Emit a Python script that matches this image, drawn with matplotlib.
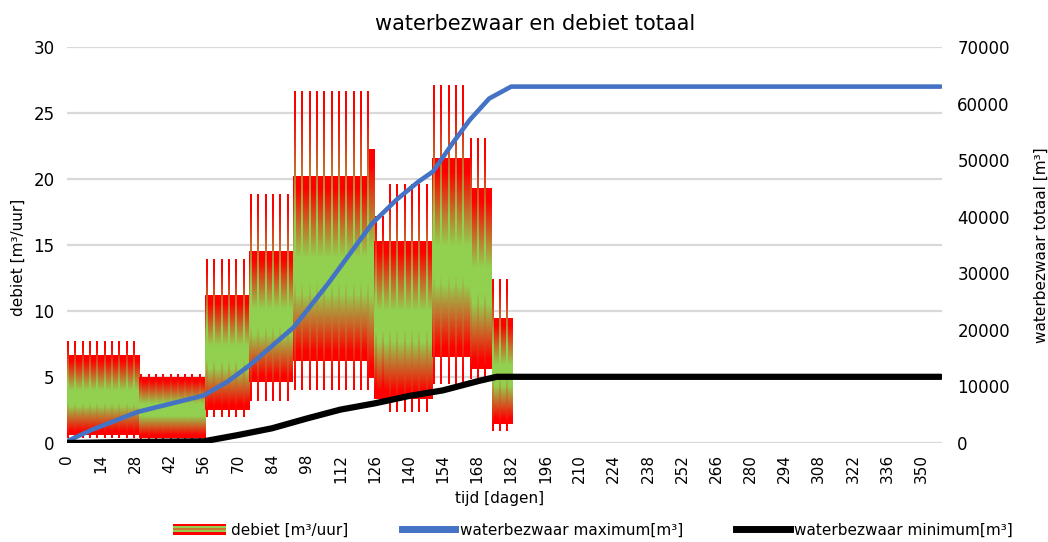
import numpy as np
import matplotlib
matplotlib.use("Agg")
import matplotlib.pyplot as plt
from matplotlib.colors import LinearSegmentedColormap
from matplotlib.patches import Rectangle
from matplotlib.lines import Line2D
from matplotlib.legend_handler import HandlerBase

# debiet blokken (m3/uur): basisband per periode
band_start = [0, 29.5, 56.6, 74.7, 92.7, 123.6, 125.8, 149.7, 165.0, 174.0]
band_end = [29.5, 56.6, 74.7, 92.7, 123.6, 125.8, 149.7, 165.0, 174.0, 182.2]
band_low = [0.6, 0.35, 2.5, 4.6, 6.2, 4.9, 3.3, 6.5, 5.6, 1.45]
band_high = [6.65, 4.9, 11.15, 14.45, 20.2, 22.2, 15.2, 21.5, 19.3, 9.45]

# pieken per groep
spike_days = [
    [0, 3, 6, 9, 12, 15, 18, 21, 24, 27],
    [30, 33, 36, 39, 42, 45, 48, 51, 54],
    [57, 60, 63, 66, 69, 72],
    [75, 78, 81, 84, 87, 90],
    [93, 96, 99, 102, 105, 108, 111, 114, 117, 120, 123],
    [126, 129],
    [132, 135, 138, 141, 144, 147],
    [150, 153, 156, 159, 162],
    [165, 168, 171],
    [174, 177, 180],
]
spike_low = [0.35, 0.3, 1.95, 3.2, 4.0, 3.6, 2.35, 4.5, 4.85, 0.9]
spike_high = [7.65, 5.15, 13.9, 18.85, 26.65, 17.1, 19.55, 27.1, 23.1, 12.4]

# waterbezwaar totaal (m3)
max_days = [0, 10, 29, 56, 66, 75, 93, 107, 125, 135, 144, 150, 158, 165, 173, 182, 358]
max_vals = [300, 2300, 5500, 8400, 10900, 13800, 20500, 28200, 38800, 43000, 46200,
            48000, 53000, 57100, 60900, 63000, 63000]
min_days = [0, 28, 56, 70, 84, 98, 112, 126, 140, 154, 169, 176, 358]
min_vals = [0, 200, 300, 1400, 2600, 4300, 5900, 7000, 8300, 9300, 11000, 11700, 11700]

xticks = list(range(0, 351, 14))

RED = "#ff0000"
GREEN = "#92d050"
BLUE = "#4472c4"
GRID = "#d9d9d9"

cmap = LinearSegmentedColormap.from_list(
    "rgr", [(0, RED), (0.05, RED), (0.36, GREEN), (0.56, GREEN), (0.93, RED), (1, RED)])
grad = np.linspace(0, 1, 256).reshape(-1, 1)

plt.rcParams["font.family"] = ["DejaVu Sans"]

fig = plt.figure(figsize=(10.48, 5.42), dpi=100)
ax = fig.add_axes([67 / 1048, 1 - 443 / 542, 875 / 1048, 396 / 542])
ax2 = ax.twinx()


def grad_bar(x0, x1, lo, hi, z):
    ax.imshow(grad, cmap=cmap, origin="lower", extent=[x0, x1, lo, hi],
              aspect="auto", interpolation="bilinear", zorder=z)


for s, e, lo, hi in zip(band_start, band_end, band_low, band_high):
    grad_bar(s, e, lo, hi, 2)

for days, lo, hi in zip(spike_days, spike_low, spike_high):
    for d in days:
        grad_bar(d, d + 0.7, lo, hi, 3)

ax.set_xlim(0, 358.5)
ax.set_ylim(0, 30)
ax.set_yticks(range(0, 31, 5))
ax.set_xticks(xticks)
ax.set_xticklabels([str(t) for t in xticks], rotation=90)
ax.grid(axis="y", color=GRID, linewidth=1.6)
ax.set_axisbelow(True)

ax2.plot(max_days, max_vals, color=BLUE, linewidth=3.3, solid_capstyle="round")
ax2.plot(min_days, min_vals, color="black", linewidth=4.5, solid_capstyle="round")
ax2.set_ylim(0, 70000)
ax2.set_yticks(range(0, 70001, 10000))

for a in (ax, ax2):
    for sp in a.spines.values():
        sp.set_visible(False)
ax.tick_params(axis="y", length=0, labelsize=12, pad=9)
ax.tick_params(axis="x", length=0, labelsize=11, pad=8)
ax2.tick_params(axis="y", length=0, labelsize=12, pad=11)

ax.set_ylabel("debiet [m³/uur]", fontsize=11)
ax.yaxis.set_label_coords(-0.047, 0.47)
ax2.set_ylabel("waterbezwaar totaal [m³]", fontsize=11)
ax2.yaxis.set_label_coords(1.105, 0.5)

fig.text(535 / 1048, 1 - 24 / 542, "waterbezwaar en debiet totaal",
         ha="center", va="center", fontsize=15)
fig.text(500 / 1048, 1 - 499 / 542, "tijd [dagen]", ha="center", va="center",
         fontsize=11)


class GradHandler(HandlerBase):
    def create_artists(self, legend, orig, xd, yd, w, h, fs, trans):
        cols = [RED, GREEN, "#c8782a", GREEN, RED]
        n = len(cols)
        arts = []
        for i, c in enumerate(cols):
            r = Rectangle((xd, yd + i * h / n), w, h / n, facecolor=c,
                          edgecolor="none", transform=trans)
            arts.append(r)
        return arts


h_deb = Rectangle((0, 0), 1, 1)
h_max = Line2D([], [], color=BLUE, linewidth=5)
h_min = Line2D([], [], color="black", linewidth=5)
fig.legend([h_deb, h_max, h_min],
           ["debiet [m³/uur]", "waterbezwaar maximum[m³]", "waterbezwaar minimum[m³]"],
           handler_map={Rectangle: GradHandler()},
           loc="center", bbox_to_anchor=(593 / 1048, 1 - 530 / 542), ncol=3,
           frameon=False, fontsize=11, handlelength=3.5, handletextpad=0.3,
           columnspacing=3.5, borderaxespad=0)

fig.savefig("out.png", dpi=100)
